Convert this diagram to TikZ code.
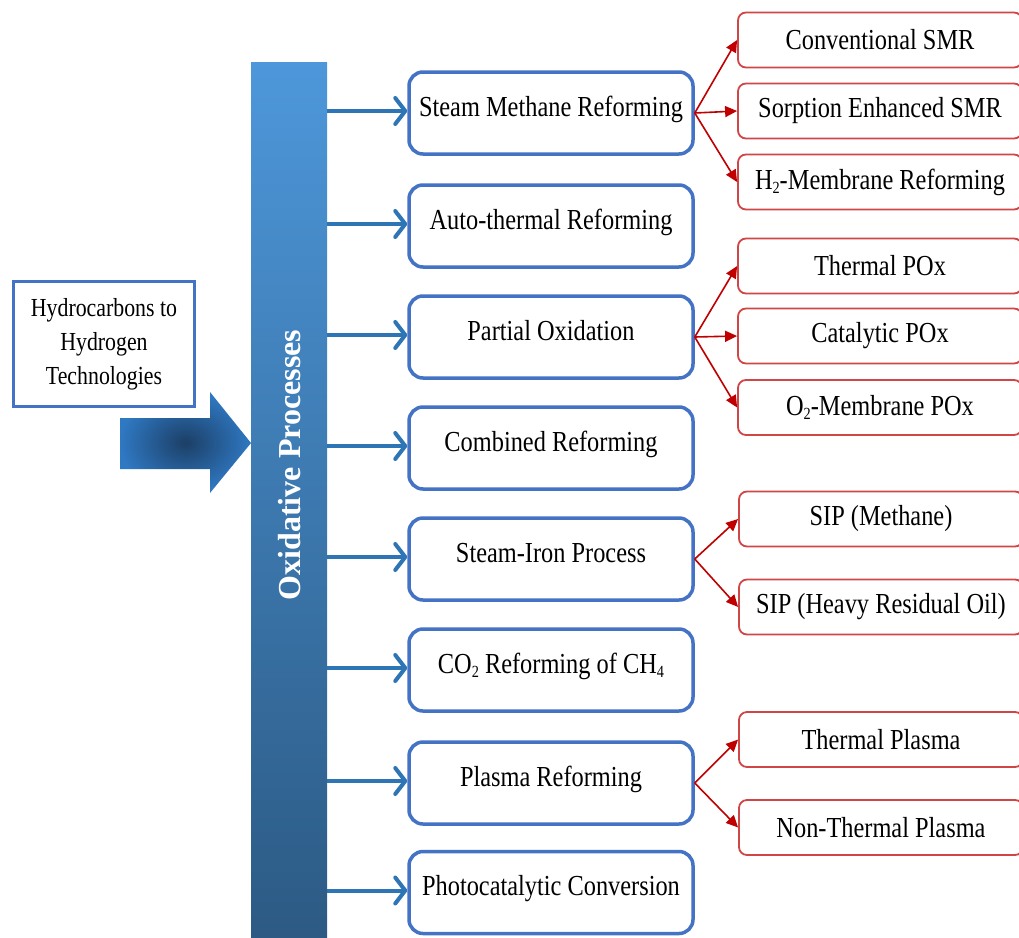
\documentclass[tikz,border=0pt]{standalone}
\usepackage{fontspec}
\setmainfont{Liberation Serif}[FakeStretch=0.84]
\newfontfamily\barfont{Liberation Serif}
\usetikzlibrary{arrows.meta}
\definecolor{boxblue}{HTML}{4472C4}
\definecolor{arrblue}{HTML}{2E75B6}
\definecolor{boxred}{HTML}{D04545}
\definecolor{arrred}{HTML}{C00000}
\definecolor{bartop}{HTML}{4D97DA}
\definecolor{barbot}{HTML}{2C5A84}
\definecolor{arrdark}{HTML}{1C3F66}
\definecolor{arrlight}{HTML}{2F78C2}
\newcommand{\lowsub}[1]{\raisebox{-0.3ex}{\fontsize{17}{17}\selectfont #1}}
\tikzset{
  bluebox/.style={draw=boxblue, line width=3.5pt, rounded corners=14pt, fill=white,
    minimum width=284pt, minimum height=82pt, inner sep=0pt,
    text height=20pt, text depth=14pt,
    font=\fontsize{29}{34}\selectfont},
  redbox/.style={draw=boxred, line width=1.8pt, rounded corners=8pt, fill=white,
    minimum width=284pt, minimum height=55pt, inner sep=0pt,
    font=\fontsize{29}{34}\selectfont},
  bluearrow/.style={draw=arrblue, line width=4pt, -{Straight Barb[length=10pt,width=26pt,round]}},
  redarrow/.style={draw=arrred, line width=1.6pt, -{Triangle[length=12pt,width=11pt]}},
  srcbox/.style={draw=boxblue, line width=3pt, fill=white, minimum width=181pt,
    minimum height=125pt, inner sep=0pt, align=center,
    font=\fontsize{26}{34}\selectfont},
  bar/.style={top color=bartop, bottom color=barbot, draw=none,
    minimum width=76pt, minimum height=875pt, inner sep=0pt},
  bartext/.style={text=white, rotate=90, font=\barfont\bfseries\fontsize{32}{36}\selectfont}
}
\begin{document}
\begin{tikzpicture}[x=1pt,y=-1pt]
\clip (0,0) rectangle (1019,937);
\fill[white] (0,0) rectangle (1019,937);

% source box and big arrow
\node[srcbox] (src) at (104,344) {Hydrocarbons to\\Hydrogen\\Technologies};
\shade[inner color=arrdark, outer color=arrlight]
  (120,418) -- (210,418) -- (210,392) -- (251,443) -- (210,493) -- (210,469) -- (120,469) -- cycle;

% vertical bar
\node[bar] (bar) at (289,499.5) {};
\node[bartext] (bartxt) at (290,465) {Oxidative Processes};

% blue boxes
\node[bluebox] (b1) at (551,113) {Steam Methane Reforming};
\node[bluebox] (b2) at (551,226) {Auto-thermal Reforming};
\node[bluebox] (b3) at (551,337) {Partial Oxidation};
\node[bluebox] (b4) at (551,448) {Combined Reforming};
\node[bluebox] (b5) at (551,559) {Steam-Iron Process};
\node[bluebox] (b6) at (551,670) {CO\lowsub{2} Reforming of CH\lowsub{4}};
\node[bluebox] (b7) at (551,783) {Plasma Reforming};
\node[bluebox] (b8) at (551,892.5) {Photocatalytic Conversion};

\foreach \b in {b1,b2,b3,b4,b5,b6,b7,b8}
  \draw[bluearrow] ([yshift=2pt]bar.east |- \b.west) -- ([yshift=2pt]\b.west);

% red boxes
\node[redbox] (r1) at (880,40) {Conventional SMR};
\node[redbox] (r2) at (880,111) {Sorption Enhanced SMR};
\node[redbox] (r3) at (880,182) {H\lowsub{2}-Membrane Reforming};
\node[redbox] (r4) at (880,266) {Thermal POx};
\node[redbox] (r5) at (880,336) {Catalytic POx};
\node[redbox] (r6) at (880,407.5) {O\lowsub{2}-Membrane POx};
\node[redbox] (r7) at (881,519) {SIP (Methane)};
\node[redbox] (r8) at (881,607) {SIP (Heavy Residual Oil)};
\node[redbox] (r9) at (881,739.5) {Thermal Plasma};
\node[redbox] (r10) at (881,827.5) {Non-Thermal Plasma};

\foreach \r in {r1,r2,r3} \draw[redarrow] (b1.east) -- (\r.west);
\foreach \r in {r4,r5,r6} \draw[redarrow] (b3.east) -- (\r.west);
\foreach \r in {r7,r8} \draw[redarrow] (b5.east) -- (\r.west);
\foreach \r in {r9,r10} \draw[redarrow] (b7.east) -- (\r.west);
\end{tikzpicture}
\end{document}
